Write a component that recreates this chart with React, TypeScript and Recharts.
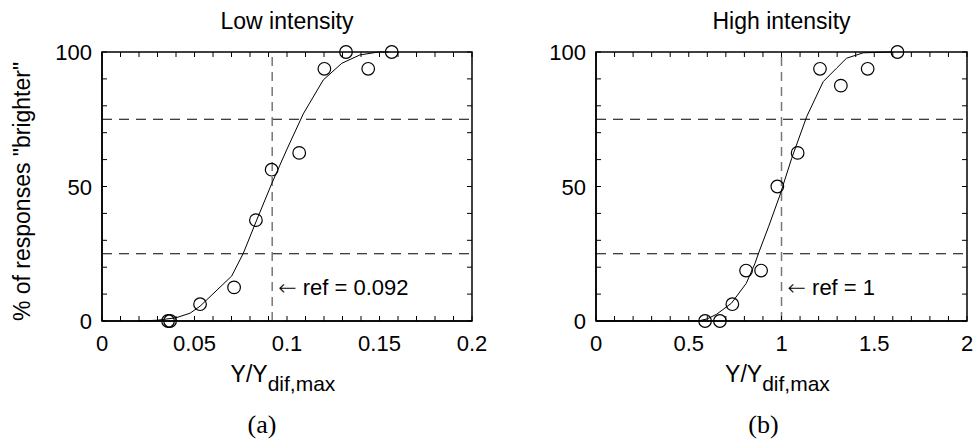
import React from 'react'
import {
  ComposedChart,
  Line,
  Scatter,
  XAxis,
  YAxis,
  ReferenceLine,
  ReferenceDot,
} from 'recharts'

const FONT = "'Liberation Sans', Arial, Helvetica, sans-serif"
const SERIF = "'Liberation Serif', 'Times New Roman', serif"

// (a) low intensity: measured points and fitted curve
const LOW_PTS_X = [0.0357, 0.0368, 0.053, 0.0714, 0.0832, 0.0917, 0.1066, 0.1202, 0.1319, 0.1439, 0.1566]
const LOW_PTS_Y = [0, 0, 6.25, 12.5, 37.5, 56.25, 62.5, 93.75, 100, 93.75, 100]
const LOW_FIT_X = [0.02, 0.03, 0.04, 0.0476, 0.053, 0.0701, 0.0764, 0.0836, 0.0917, 0.0998, 0.1088, 0.1196, 0.1296, 0.1394, 0.1494, 0.155]
const LOW_FIT_Y = [0, 0.3, 1.2, 2.9, 5.5, 16.7, 25.2, 37.5, 51, 63.6, 77, 89.6, 95.8, 98.9, 100, 100]
const LOW_X_TICKS = [0, 0.01, 0.02, 0.03, 0.04, 0.05, 0.06, 0.07, 0.08, 0.09, 0.1, 0.11, 0.12, 0.13, 0.14, 0.15, 0.16, 0.17, 0.18, 0.19, 0.2]
const LOW_X_MAJOR = [0, 0.05, 0.1, 0.15, 0.2]
const LOW_X_LABELS = ['0', '0.05', '0.1', '0.15', '0.2']
const LOW_REF = 0.092

// (b) high intensity
const HIGH_PTS_X = [0.588, 0.668, 0.735, 0.809, 0.89, 0.9775, 1.087, 1.2075, 1.32, 1.4645, 1.625]
const HIGH_PTS_Y = [0, 0, 6.25, 18.75, 18.75, 50, 62.5, 93.75, 87.5, 93.75, 100]
const HIGH_FIT_X = [0, 0.55, 0.6, 0.65, 0.73, 0.81, 0.857, 0.875, 0.93, 0.99, 1.055, 1.136, 1.225, 1.297, 1.351, 1.441, 1.6]
const HIGH_FIT_Y = [0, 0, 0.8, 2.5, 6.6, 14, 21.4, 25, 35, 46.5, 60.5, 76, 89, 94, 97.7, 99.7, 100]
const HIGH_X_TICKS = [0, 0.1, 0.2, 0.3, 0.4, 0.5, 0.6, 0.7, 0.8, 0.9, 1, 1.1, 1.2, 1.3, 1.4, 1.5, 1.6, 1.7, 1.8, 1.9, 2]
const HIGH_X_MAJOR = [0, 0.5, 1, 1.5, 2]
const HIGH_X_LABELS = ['0', '0.5', '1', '1.5', '2']
const HIGH_REF = 1

const Y_TICKS = [0, 10, 20, 30, 40, 50, 60, 70, 80, 90, 100]
const Y_MAJOR = [0, 50, 100]
const Y_LABELS = ['0', '50', '100']
const Y_DOMAIN: [number, number] = [0, 100]
const GUIDE_LEVELS = [25, 75]
const REF_LABEL_LEVEL = 12.5

const CHART_H = 445
const MARGIN_TOP = 51
const TOP_AXIS_H = 1
const X_AXIS_H = 124
const TICK_LEN = 5

const zip = (xs: number[], ys: number[]) => xs.map((x, i) => ({ x, y: ys[i] }))

const near = (a: number, b: number) => Math.abs(a - b) < 1e-9

const findLabel = (v: number, major: number[], labels: string[]) => {
  const i = major.findIndex((m) => near(m, v))
  return i < 0 ? null : labels[i]
}

type PanelProps = {
  width: number
  height: number
  yAxisWidth: number
  rightMargin: number
  domain: [number, number]
  xTicks: number[]
  xMajor: number[]
  xLabels: string[]
  points: { x: number; y: number }[]
  fit: { x: number; y: number }[]
  refX: number
  refText: string
  title: string
  tag: string
  tagShift: number
  yTitle?: string
}

function Panel(p: PanelProps) {
  const plotRight = p.width - p.rightMargin
  const plotTop = MARGIN_TOP + TOP_AXIS_H

  // ticks are echoed on the top and right edges of the box
  const xTick = (props: any) => {
    const label = findLabel(props.payload.value, p.xMajor, p.xLabels)
    return (
      <g>
        <path d={`M${props.x},${plotTop}v${TICK_LEN}`} stroke="#000" strokeWidth={1} fill="none" />
        {label !== null ? (
          <text x={props.x} y={props.y + 35} textAnchor="middle" fontSize={22} fontFamily={FONT} fill="#000">
            {label}
          </text>
        ) : null}
      </g>
    )
  }
  const yTick = (props: any) => {
    const label = findLabel(props.payload.value, Y_MAJOR, Y_LABELS)
    return (
      <g>
        <path d={`M${plotRight},${props.y}h${-TICK_LEN}`} stroke="#000" strokeWidth={1} fill="none" />
        {label !== null ? (
          <text x={props.x - 15} y={props.y + 8} textAnchor="end" fontSize={22} fontFamily={FONT} fill="#000">
            {label}
          </text>
        ) : null}
      </g>
    )
  }
  const xTitle = (props: any) => {
    const vb = props.viewBox
    const cx = vb.x + vb.width / 2
    return (
      <g>
        <text x={cx - 4} y={vb.y + 61} textAnchor="middle" fontSize={23} fontFamily={FONT} fill="#000">
          <tspan>Y/Y</tspan>
          <tspan dy={9} fontSize={21}>dif,max</tspan>
        </text>
        <text x={cx + p.tagShift} y={vb.y + 112} textAnchor="middle" fontSize={26} fontFamily={SERIF} fill="#000">
          {p.tag}
        </text>
      </g>
    )
  }
  const topTitle = (props: any) => {
    const vb = props.viewBox
    return (
      <text x={vb.x + vb.width / 2} y={vb.y - 22} textAnchor="middle" fontSize={23} fontFamily={FONT} fill="#000">
        {p.title}
      </text>
    )
  }
  const yTitle = (props: any) => {
    if (!p.yTitle) return null
    const vb = props.viewBox
    const cy = vb.y + vb.height / 2 + 5
    return (
      <text x={22} y={cy} transform={`rotate(-90 22 ${cy})`} textAnchor="middle" dominantBaseline="central" fontSize={23} fontFamily={FONT} fill="#000">
        {p.yTitle}
      </text>
    )
  }
  const refLabel = (props: any) => {
    const vb = props.viewBox
    const x = vb.x + vb.width + 6
    const y = vb.y + vb.height / 2 + 8
    return (
      <text x={x} y={y} fontSize={22} fontFamily={FONT} fill="#000">
        <tspan fontFamily="'DejaVu Sans', sans-serif" fontWeight={200}>←</tspan>
        <tspan> {p.refText}</tspan>
      </text>
    )
  }

  const axisLine = { stroke: '#000', strokeWidth: 1.5 }
  const tickLine = { stroke: '#000', strokeWidth: 1 }
  const ids = { xAxisId: 'bottom', yAxisId: 'left' }

  return (
    <ComposedChart
      width={p.width}
      height={p.height}
      margin={{ top: MARGIN_TOP, right: p.rightMargin, bottom: 0, left: 0 }}
    >
      <XAxis
        xAxisId="bottom"
        type="number"
        dataKey="x"
        domain={p.domain}
        ticks={p.xTicks}
        interval={0}
        allowDataOverflow
        height={X_AXIS_H}
        axisLine={axisLine}
        tickLine={tickLine}
        tickSize={-TICK_LEN}
        tickMargin={0}
        tick={xTick}
        label={xTitle}
      />
      <XAxis
        xAxisId="top"
        orientation="top"
        type="number"
        dataKey="x"
        domain={p.domain}
        ticks={p.xTicks}
        interval={0}
        height={TOP_AXIS_H}
        axisLine={false}
        tickLine={false}
        tick={false}
        label={topTitle}
      />
      <YAxis
        yAxisId="left"
        type="number"
        domain={Y_DOMAIN}
        ticks={Y_TICKS}
        interval={0}
        width={p.yAxisWidth}
        axisLine={axisLine}
        tickLine={tickLine}
        tickSize={-TICK_LEN}
        tickMargin={0}
        tick={yTick}
        label={yTitle}
      />
      {GUIDE_LEVELS.map((lvl) => (
        <ReferenceLine
          key={lvl}
          {...ids}
          y={lvl}
          stroke="#000"
          strokeWidth={1}
          strokeDasharray="10 7"
        />
      ))}
      <ReferenceLine
        {...ids}
        x={p.refX}
        stroke="#777"
        strokeWidth={1.5}
        strokeDasharray="9 6"
      />
      <ReferenceDot
        {...ids}
        x={p.refX}
        y={REF_LABEL_LEVEL}
        r={0}
        fill="none"
        stroke="none"
        label={refLabel}
      />
      <Line
        {...ids}
        data={p.fit}
        dataKey="y"
        type="linear"
        stroke="#000"
        strokeWidth={1}
        dot={false}
        activeDot={false}
        isAnimationActive={false}
      />
      <Scatter
        {...ids}
        data={p.points}
        dataKey="y"
        isAnimationActive={false}
        shape={(s: any) => <circle cx={s.cx} cy={s.cy} r={6.3} fill="none" stroke="#000" strokeWidth={1.2} />}
      />
    </ComposedChart>
  )
}

// plain outline of each plot box, drawn over the charts
function Frame({ left, width, yAxisWidth, rightMargin }: { left: number; width: number; yAxisWidth: number; rightMargin: number }) {
  const x0 = yAxisWidth
  const x1 = width - rightMargin
  const y0 = MARGIN_TOP + TOP_AXIS_H
  const y1 = CHART_H - X_AXIS_H
  return (
    <svg
      width={width}
      height={CHART_H}
      style={{ position: 'absolute', left, top: 0, pointerEvents: 'none', zIndex: 2 }}
    >
      <rect x={x0} y={y0} width={x1 - x0} height={y1 - y0} fill="none" stroke="#000" strokeWidth={1.5} />
    </svg>
  )
}

export default function App() {
  return (
    <div style={{ position: 'absolute', left: 0, top: 0, width: 977, height: 445, background: '#fff' }}>
      <div style={{ position: 'absolute', left: 0, top: 0 }}>
        <Panel
          width={490}
          height={CHART_H}
          yAxisWidth={102}
          rightMargin={18}
          domain={[0, 0.2]}
          xTicks={LOW_X_TICKS}
          xMajor={LOW_X_MAJOR}
          xLabels={LOW_X_LABELS}
          points={zip(LOW_PTS_X, LOW_PTS_Y)}
          fit={zip(LOW_FIT_X, LOW_FIT_Y)}
          refX={LOW_REF}
          refText="ref = 0.092"
          title="Low intensity"
          tag="(a)"
          tagShift={-25}
          yTitle={'% of responses "brighter"'}
        />
      </div>
      <div style={{ position: 'absolute', left: 490, top: 0 }}>
        <Panel
          width={487}
          height={CHART_H}
          yAxisWidth={106}
          rightMargin={10}
          domain={[0, 2]}
          xTicks={HIGH_X_TICKS}
          xMajor={HIGH_X_MAJOR}
          xLabels={HIGH_X_LABELS}
          points={zip(HIGH_PTS_X, HIGH_PTS_Y)}
          fit={zip(HIGH_FIT_X, HIGH_FIT_Y)}
          refX={HIGH_REF}
          refText="ref = 1"
          title="High intensity"
          tag="(b)"
          tagShift={-18}
        />
      </div>
      <Frame left={0} width={490} yAxisWidth={102} rightMargin={18} />
      <Frame left={490} width={487} yAxisWidth={106} rightMargin={10} />
    </div>
  )
}
